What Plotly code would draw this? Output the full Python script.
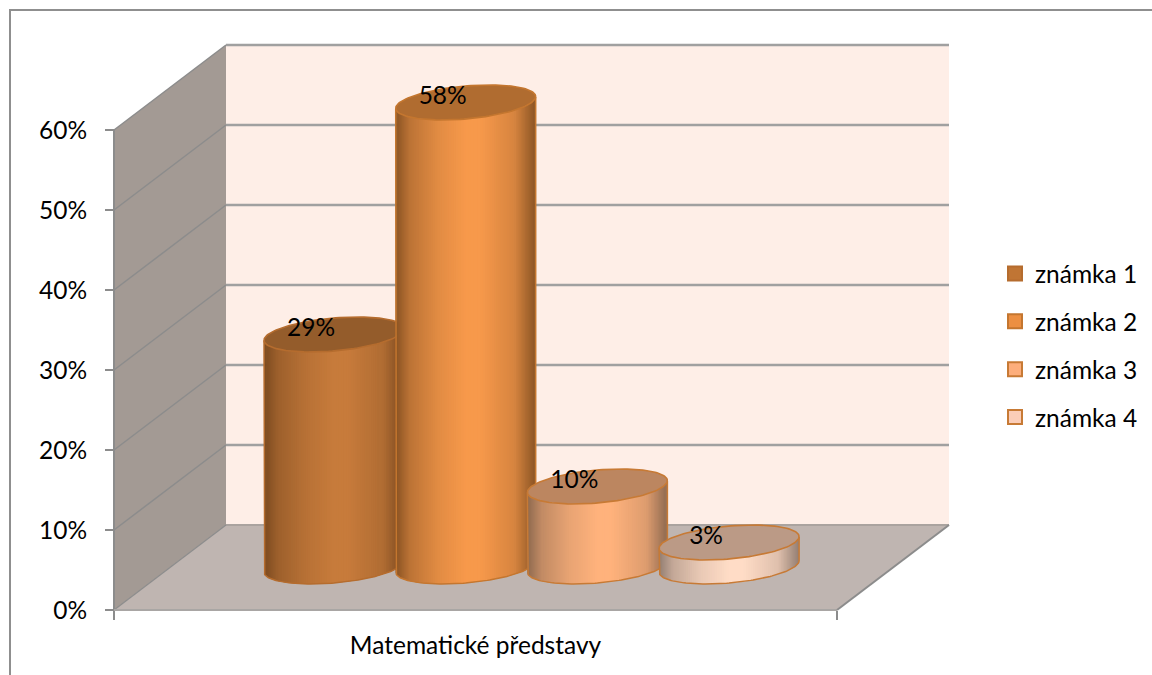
import numpy as np
import plotly.graph_objects as go

# Chart content
categories = ["Matematické představy"]
series_names = ["známka 1", "známka 2", "známka 3", "známka 4"]
series_values = [29, 58, 10, 3]
value_ticks = [0, 10, 20, 30, 40, 50, 60]

# Cylinder colours: side edge, side highlight, top face, rim, legend fill
edge_colors = ["#7b4a20", "#8a5424", "#8e6a50", "#937e72"]
peak_colors = ["#c77b3b", "#f7994b", "#ffb27c", "#ffdcc6"]
top_colors = ["#945c2b", "#b06c30", "#bc8660", "#bb9a86"]
rim_colors = ["#b56c2e", "#c4762f", "#c77a35", "#c77a35"]
legend_colors = ["#c07534", "#ec8f42", "#fdae7c", "#fbcdb8"]

# Canvas and oblique projection (x in canvas units, y in percent)
WIDTH, HEIGHT = 1152, 675
UNIT = 8.0               # canvas units per percentage point
ZERO = 610.0             # canvas row of the 0% level on the front plane
X_FRONT_L, X_FRONT_R = 114.0, 837.0
DEPTH_X, DEPTH_Y = 112.0, 85.0 / UNIT
AXIS_MAX = 60.0
FONT = "Lato"
FONT_SIZE = 24.5

GRID = "#a0a0a0"
AXIS = "#8c8c8c"


def level(row):
    """Canvas row to axis value."""
    return (ZERO - row) / UNIT


def project(x, value, depth=0.0):
    return x + depth * DEPTH_X, value + depth * DEPTH_Y


def blend(c1, c2, s):
    a = [int(c1[i:i + 2], 16) for i in (1, 3, 5)]
    b = [int(c2[i:i + 2], 16) for i in (1, 3, 5)]
    return "rgb({},{},{})".format(*[round(p + (q - p) * s) for p, q in zip(a, b)])


fig = go.Figure()


def polygon(xs, ys, fill, line=None, width=0):
    fig.add_trace(go.Scatter(
        x=xs, y=ys, mode="lines", fill="toself", fillcolor=fill,
        line=dict(color=line or fill, width=width),
        hoverinfo="skip", showlegend=False,
    ))


def stroke(xs, ys, color, width):
    fig.add_trace(go.Scatter(
        x=xs, y=ys, mode="lines", line=dict(color=color, width=width),
        hoverinfo="skip", showlegend=False,
    ))


# Outer chart frame
stroke([10, 10, 1160], [level(680), level(10), level(10)], "#8f8f8f", 2)

# Walls and floor
x0, y0 = project(X_FRONT_L, 0)
x0b, y0b = project(X_FRONT_L, 0, 1)
x1, y1 = project(X_FRONT_R, 0)
x1b, y1b = project(X_FRONT_R, 0, 1)
polygon([x0, x0b, x0b, x0, x0], [0, y0b, y0b + AXIS_MAX, AXIS_MAX, 0], "#a39a94")
polygon([x0b, x1b, x1b, x0b, x0b], [y0b, y1b, y1b + AXIS_MAX, y0b + AXIS_MAX, y0b], "#feeee7")
polygon([x0, x1, x1b, x0b, x0], [0, 0, y1b, y0b, 0], "#bfb5b1")

# Gridlines across the side wall and back wall
for tick in value_ticks:
    if tick > 0:
        stroke([x0, x0b], [tick, tick + DEPTH_Y], AXIS, 1.5)
        stroke([x0b, x1b], [tick + DEPTH_Y, tick + DEPTH_Y], GRID, 2.5)
stroke([x0b, x1b], [DEPTH_Y, DEPTH_Y], "#aaa39f", 2)
stroke([x0, x0b], [0, DEPTH_Y], AXIS, 1.2)
stroke([x0, x0], [0, AXIS_MAX], AXIS, 2)
stroke([x0, x1], [0, 0], "#a9a6a4", 2)
stroke([x1, x1b], [0, DEPTH_Y], AXIS, 2)

# Cylinders, drawn left to right so each one overlaps its neighbour
CX_FIRST, CX_STEP = 334.0, 131.7
AX, BX = 66.0, 23.3      # ellipse spread along the front and depth directions
CY = 17.5 / UNIT         # ellipse half height in percent
BASE_DEPTH = 0.512
HALF_W = float(np.hypot(AX, BX))
T0 = float(np.arctan2(BX, AX))
SHADE_POS = [0, 0.1, 0.3, 0.5, 0.6, 0.85, 1]
SHADE_VAL = [0, 0.45, 0.8, 1, 1, 0.7, 0]
STRIPS = 90


def ellipse_point(cx, cy, t):
    return cx + AX * np.cos(t) + BX * np.sin(t), cy + CY * np.sin(t)


label_x, label_y = [], []
for i, value in enumerate(series_values):
    cx_base, base = project(CX_FIRST + i * CX_STEP - BASE_DEPTH * DEPTH_X, 0, BASE_DEPTH)
    top = base + value
    ts = np.linspace(T0 + np.pi, T0 + 2 * np.pi, STRIPS + 1)
    # Each strip reaches over the next one, which paints over the overlap
    for k in range(STRIPS):
        a, b = ts[k], ts[min(k + 2, STRIPS)]
        xa, ya = ellipse_point(cx_base, base, a)
        xb, yb = ellipse_point(cx_base, base, b)
        _, ua = ellipse_point(cx_base, top, a)
        _, ub = ellipse_point(cx_base, top, b)
        xc, _ = ellipse_point(cx_base, base, (ts[k] + ts[k + 1]) / 2)
        frac = (xc - (cx_base - HALF_W)) / (2 * HALF_W)
        shade = blend(edge_colors[i], peak_colors[i], np.interp(frac, SHADE_POS, SHADE_VAL))
        polygon([xa, xb, xb, xa, xa], [ya, yb, ub, ua, ya], shade)

    # Silhouette of the side, then the top face
    front_x, front_y = ellipse_point(cx_base, base, ts)
    _, rim_top_left = ellipse_point(cx_base, top, ts[0])
    _, rim_top_right = ellipse_point(cx_base, top, ts[-1])
    stroke(
        [front_x[0], *front_x, front_x[-1]],
        [rim_top_left, *front_y, rim_top_right],
        rim_colors[i], 1.5,
    )
    whole = np.linspace(0, 2 * np.pi, 121)
    top_x, top_y = ellipse_point(cx_base, top, whole)
    polygon(list(top_x), list(top_y), top_colors[i], rim_colors[i], 1.6)

    label_x.append(cx_base - 23)
    label_y.append(top + 5 / UNIT)

# Value labels
fig.add_trace(go.Scatter(
    x=label_x, y=label_y, mode="text",
    text=[f"{v}%" for v in series_values],
    textposition="middle center",
    textfont=dict(family=FONT, size=FONT_SIZE, color="#000000"),
    hoverinfo="skip", showlegend=False,
))

# Legend entries
for i, name in enumerate(series_names):
    fig.add_trace(go.Scatter(
        x=[None], y=[None], mode="markers", name=name, legendgroup=name,
        marker=dict(symbol="square", size=14, color=legend_colors[i],
                    line=dict(color=rim_colors[i], width=2)),
    ))

fig.update_layout(
    width=WIDTH, height=HEIGHT,
    margin=dict(l=0, r=0, t=0, b=0),
    paper_bgcolor="#ffffff", plot_bgcolor="#ffffff",
    font=dict(family=FONT, size=FONT_SIZE, color="#000000"),
    showlegend=True,
    legend=dict(
        x=995 / WIDTH, y=1 - 251 / HEIGHT, xanchor="left", yanchor="top",
        tracegroupgap=13, bgcolor="rgba(0,0,0,0)", borderwidth=0,
        font=dict(family=FONT, size=FONT_SIZE, color="#000000"),
    ),
    xaxis=dict(
        range=[0, WIDTH], showgrid=False, zeroline=False, showline=False,
        anchor="free", position=(HEIGHT - ZERO) / HEIGHT,
        tickmode="array",
        tickvals=[(X_FRONT_L + X_FRONT_R) / 2], ticktext=categories,
        ticks="", ticklabelstandoff=18,
        minor=dict(tickmode="array", tickvals=[X_FRONT_L, X_FRONT_R], ticks="outside",
                   ticklen=9, tickwidth=2, tickcolor=AXIS, showgrid=False),
        tickfont=dict(family=FONT, size=FONT_SIZE, color="#000000"),
    ),
    yaxis=dict(
        range=[level(HEIGHT), level(0)], showgrid=False, zeroline=False, showline=False,
        anchor="free", position=X_FRONT_L / WIDTH,
        tickmode="array", tickvals=value_ticks,
        ticktext=[f"{t}%" for t in value_ticks],
        ticks="outside", ticklen=9, tickwidth=2, tickcolor=AXIS,
        ticklabelstandoff=13,
        tickfont=dict(family=FONT, size=FONT_SIZE, color="#000000"),
    ),
)

fig.write_html("out.html")
